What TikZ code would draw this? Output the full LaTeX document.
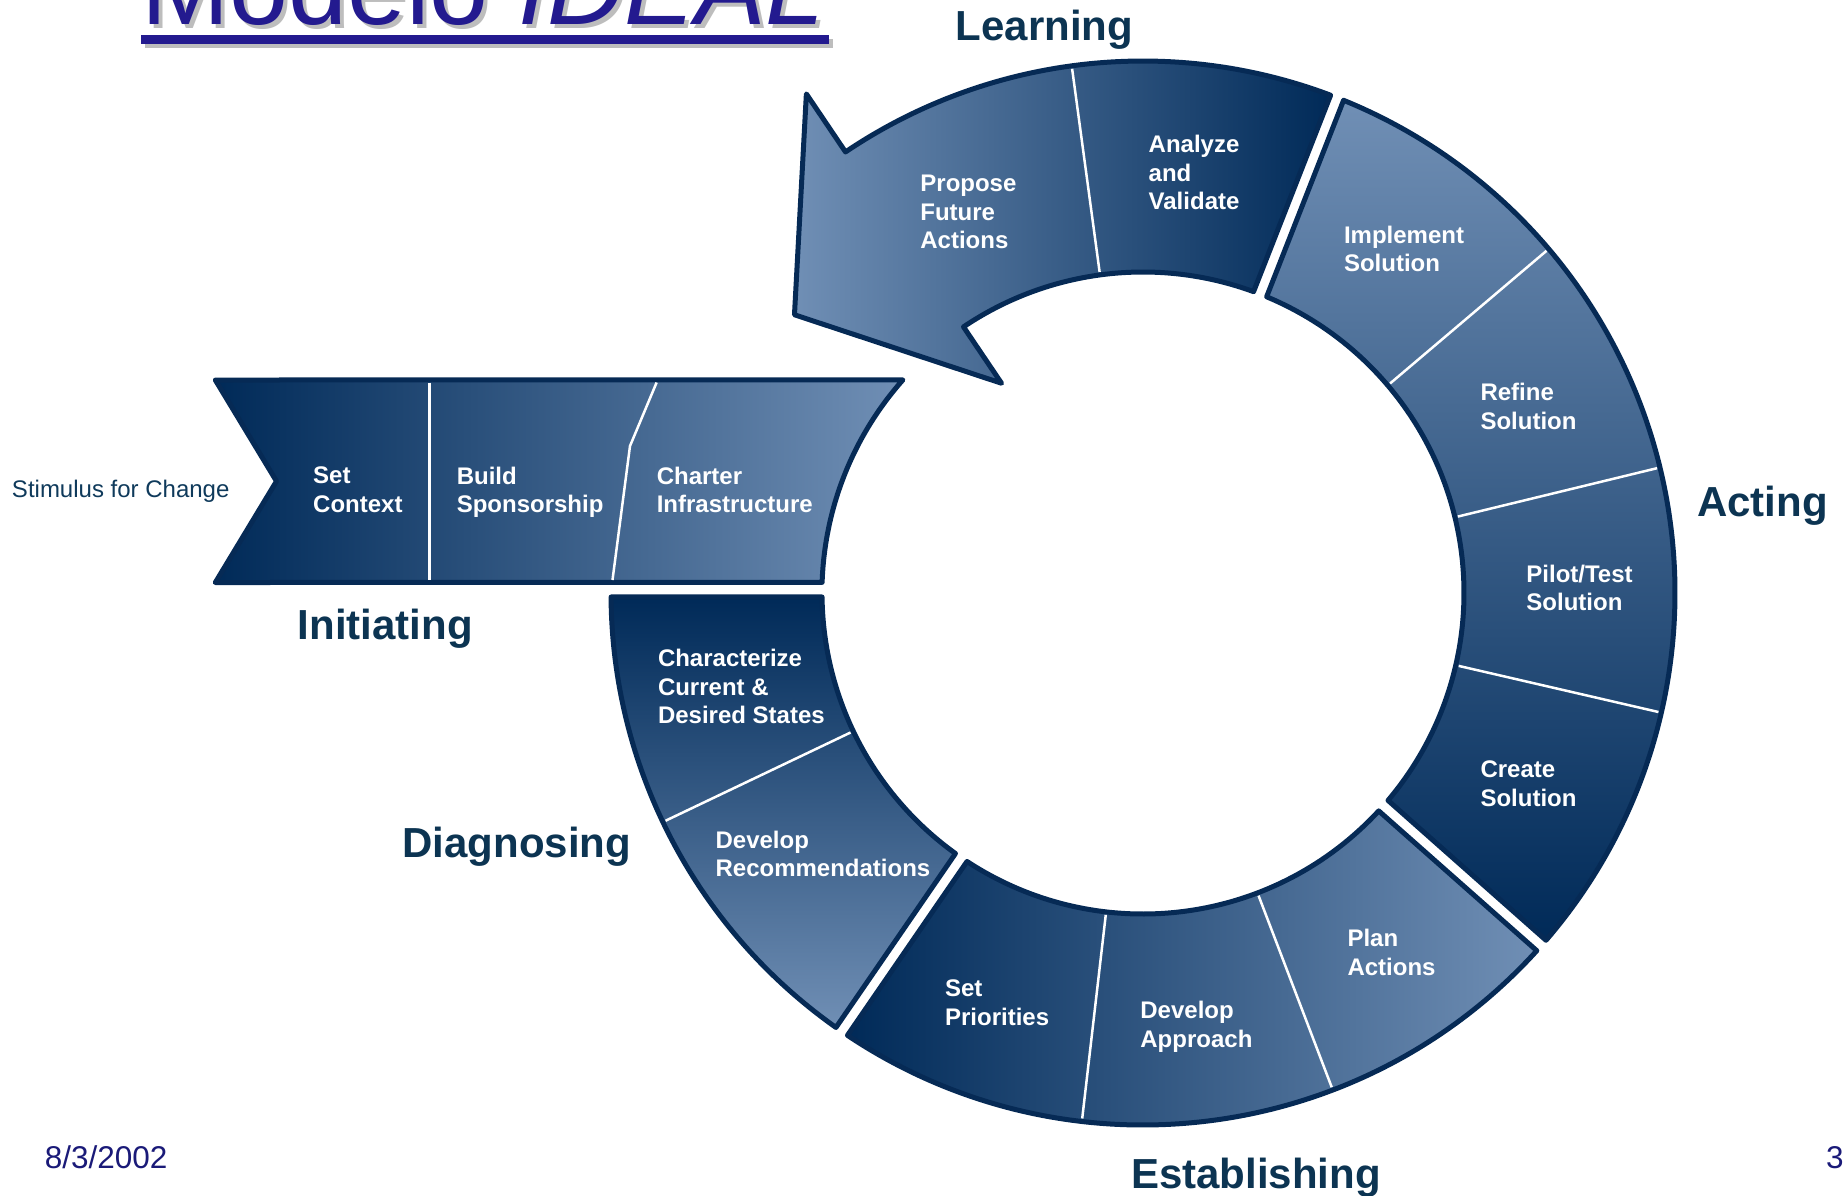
\documentclass[tikz,border=0pt]{standalone}
\usepackage{fontspec}
\setmainfont{Liberation Sans}
\definecolor{dk}{HTML}{002A58}
\definecolor{lt}{HTML}{708FB5}
\definecolor{edge}{HTML}{062A55}
\definecolor{phasecol}{HTML}{0C3452}
\definecolor{stimcol}{HTML}{0F3A5B}
\definecolor{titleblue}{HTML}{231A8F}
\definecolor{footblue}{HTML}{1A1A78}
\definecolor{shadowgray}{HTML}{BDBDBD}
\tikzset{
  grp/.style={draw=edge, line width=5pt, line join=round},
  divline/.style={draw=white, line width=2.5pt},
  lab/.style={text=white, font=\fontsize{24}{28.5}\selectfont\bfseries, align=left, anchor=north west, inner sep=0pt},
  phase/.style={text=phasecol, font=\fontsize{42}{48}\selectfont\bfseries, anchor=base west, inner sep=0pt},
}
\begin{document}
\begin{tikzpicture}[x=1pt,y=1pt]
\useasboundingbox (0,0) rectangle (1845,-1195);
\clip (0,0) rectangle (1845,-1195);

% title
\node[anchor=base west, inner sep=0pt, text=shadowgray, font=\fontsize{106}{110}\selectfont] (titleshadow) at (145,-28) {Modelo \textit{IDEAL}};
\fill[shadowgray] (145,-39) rectangle (833,-48);
\node[anchor=base west, inner sep=0pt, text=titleblue, font=\fontsize{106}{110}\selectfont] (title) at (141,-24) {Modelo \textit{IDEAL}};
\fill[titleblue] (141,-35) rectangle (829,-44);

% Initiating banner
\shadedraw[grp, left color=dk, right color=lt]
  (215.3,-380) -- (902.9,-379.9) arc[start angle=138.4, end angle=178.1, radius=321]
  -- (215.3,-582.5) -- (276.5,-481.2) -- cycle;
\draw[divline] (429.5,-382.5) -- (429.5,-580);
\draw[divline] (656.6,-382.5) -- (630,-446) -- (612.5,-580);

\begin{scope}[shift={(1143,-593)}]
  % Learning
  \shadedraw[grp, left color=lt, right color=dk]
    (69.35:532) arc[start angle=69.35, end angle=124, radius=532]
    -- (124:602) -- (141.4:446) -- (124:253) -- (124:321)
    arc[start angle=124, end angle=69.85, radius=321] -- cycle;
  % Acting
  \shadedraw[grp, top color=lt, bottom color=dk]
    (-40.75:532) arc[start angle=-40.75, end angle=67.85, radius=532]
    -- (67.35:321) arc[start angle=67.35, end angle=-40.25, radius=321] -- cycle;
  % Establishing
  \shadedraw[grp, left color=dk, right color=lt]
    (236.25:532) arc[start angle=236.25, end angle=317.75, radius=532]
    -- (317.25:321) arc[start angle=317.25, end angle=236.75, radius=321] -- cycle;
  % Diagnosing
  \shadedraw[grp, top color=dk, bottom color=lt]
    (180.43:532) arc[start angle=180.43, end angle=234.75, radius=532]
    -- (234.25:321) arc[start angle=234.25, end angle=180.71, radius=321] -- cycle;
  % dividers
  \foreach \a in {97.7, 40.3, 13.65, -13, 290.9, 263.4, 205.5}
    \draw[divline] (\a:324) -- (\a:529);
\end{scope}

% step labels
\node[lab] (propose) at (920.2,-175.0) {Propose\\Future\\Actions};
\node[lab] (analyze) at (1148.5,-135.0) {Analyze\\and\\Validate};
\node[lab] (implement) at (1343.8,-225.6) {Implement\\Solution};
\node[lab] (refine) at (1480.3,-383.3) {Refine\\Solution};
\node[lab] (pilot) at (1526.2,-564.5) {Pilot/Test\\Solution};
\node[lab] (create) at (1480.3,-761.0) {Create\\Solution};
\node[lab] (plan) at (1347.3,-929.2) {Plan\\Actions};
\node[lab] (approach) at (1140.2,-1001.0) {Develop\\Approach};
\node[lab] (priorities) at (944.9,-979.8) {Set\\Priorities};
\node[lab] (recommend) at (715.4,-830.4) {Develop\\Recommendations};
\node[lab] (characterize) at (657.8,-649.2) {Characterize\\Current \&\\Desired States};
\node[lab] (context) at (313.0,-466.8) {Set\\Context};
\node[lab] (sponsor) at (456.6,-466.8) {Build\\Sponsorship};
\node[lab] (charter) at (656.6,-466.8) {Charter\\Infrastructure};

% phase labels
\node[phase] (learning) at (955.5,-40) {Learning};
\node[phase] (acting) at (1696.8,-516.3) {Acting};
\node[phase] (initiating) at (297.7,-639.9) {Initiating};
\node[phase] (diagnosing) at (402.4,-857.6) {Diagnosing};
\node[phase] (establishing) at (1130.8,-1188.3) {Establishing};

% other texts
\node[anchor=base west, inner sep=0pt, text=stimcol, font=\fontsize{24}{28}\selectfont] (stimulus) at (11.8,-497.5) {Stimulus for Change};
\node[anchor=base west, inner sep=0pt, text=footblue, font=\fontsize{31.5}{36}\selectfont] (date) at (44.7,-1168.5) {8/3/2002};
\node[anchor=base west, inner sep=0pt, text=footblue, font=\fontsize{31.5}{36}\selectfont] (page) at (1826,-1168.5) {3};
\end{tikzpicture}
\end{document}
